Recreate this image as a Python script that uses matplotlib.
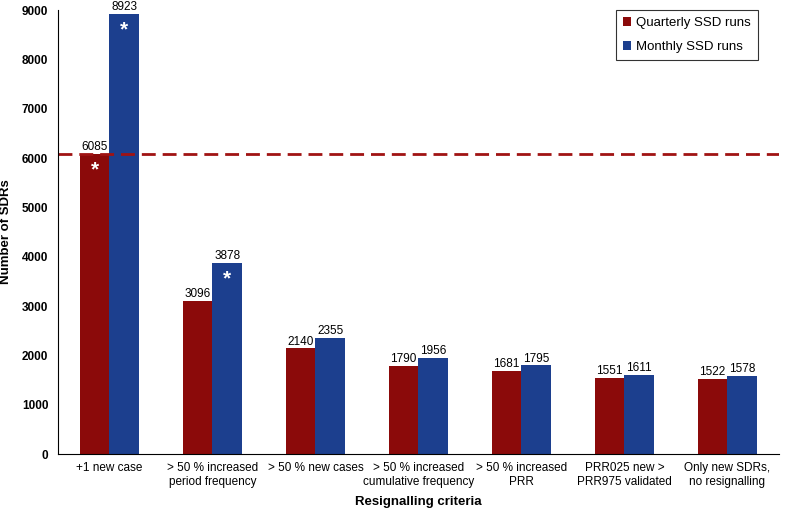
import matplotlib.pyplot as plt
import numpy as np

plt.rcParams['font.family'] = ['Liberation Sans', 'DejaVu Sans']

# data
categories = ['+1 new case', '> 50 % increased\nperiod frequency', '> 50 % new cases',
              '> 50 % increased\ncumulative frequency', '> 50 % increased\nPRR',
              'PRR025 new >\nPRR975 validated', 'Only new SDRs,\nno resignalling']
quarterly = [6085, 3096, 2140, 1790, 1681, 1551, 1522]
monthly = [8923, 3878, 2355, 1956, 1795, 1611, 1578]
q_star = [True, False, False, False, False, False, False]
m_star = [True, True, False, False, False, False, False]
ref_line = 6085

red = '#8b0a0a'
blue = '#1c3f8e'

fig = plt.figure(figsize=(7.87, 5.11), dpi=100)
ax = fig.add_axes([0.0737, 0.1115, 0.916, 0.8688])

x = np.arange(len(categories))
w = 0.29
ax.bar(x - w/2, quarterly, w, color=red, label='Quarterly SSD runs')
ax.bar(x + w/2, monthly, w, color=blue, label='Monthly SSD runs')

for xi, v in zip(x, quarterly):
    ax.text(xi - w/2, v + 80, str(v), ha='center', va='baseline', fontsize=8.5)
for xi, v in zip(x, monthly):
    ax.text(xi + w/2, v + 80, str(v), ha='center', va='baseline', fontsize=8.5)

# asterisks inside bars
for xi, v, s in zip(x, quarterly, q_star):
    if s:
        ax.text(xi - w/2, v - 330, '*', color='white', ha='center', va='center',
                fontsize=15, fontweight='bold')
for xi, v, s in zip(x, monthly, m_star):
    if s:
        ax.text(xi + w/2, v - 330, '*', color='white', ha='center', va='center',
                fontsize=15, fontweight='bold')

ax.axhline(ref_line, color='#a01313', linestyle=(0, (5, 2.5)), linewidth=2)

ax.set_xlim(-0.5, len(categories) - 0.5)
ax.set_ylim(0, 9000)
ax.set_yticks(range(0, 9001, 1000))
ax.set_xticks(x)
ax.set_xticklabels(categories, fontsize=8.5, linespacing=1.15)
for t in ax.get_yticklabels():
    t.set_fontweight('bold')
    t.set_fontsize(8.5)
ax.tick_params(axis='y', length=0, pad=7)
ax.tick_params(axis='x', length=0, pad=6)
for s in ['top', 'right']:
    ax.spines[s].set_visible(False)

ax.set_xlabel('Resignalling criteria', fontsize=9.5, fontweight='bold', labelpad=6)
ax.set_ylabel('Number of SDRs', fontsize=9.5, fontweight='bold', labelpad=7)

leg = ax.legend(loc='upper right', bbox_to_anchor=(758 / 787, 501 / 511),
                bbox_transform=fig.transFigure, borderaxespad=0, fontsize=9.5,
                fancybox=False, edgecolor='black', handlelength=0.6, handleheight=0.6,
                handletextpad=0.4, borderpad=0.55, labelspacing=0.9)
leg.get_frame().set_linewidth(0.8)

fig.savefig('out.png', dpi=100)
